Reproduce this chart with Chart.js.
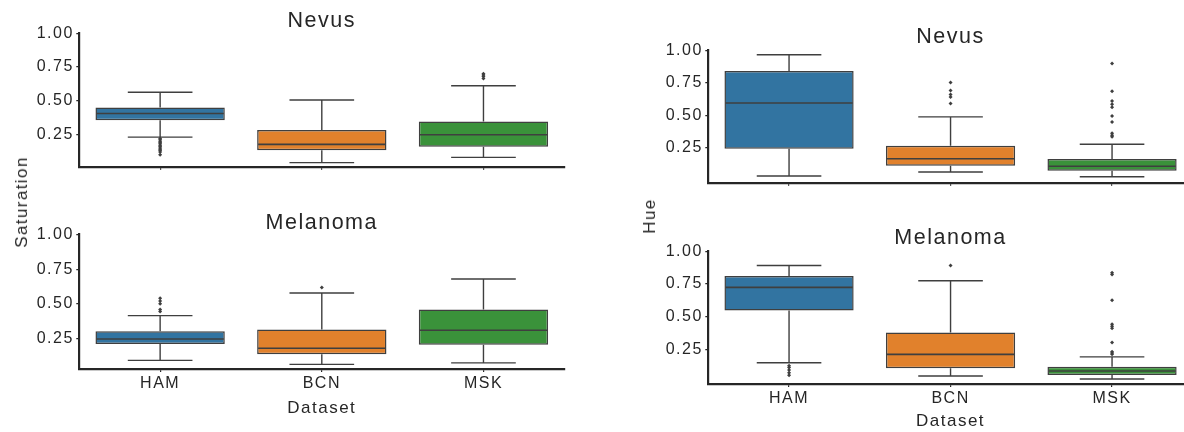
<!DOCTYPE html>
<html>
<head>
<meta charset="utf-8">
<script src="https://cdn.jsdelivr.net/npm/chart.js@4.4.1/dist/chart.umd.min.js"></script>
<style>
  html, body { margin: 0; padding: 0; background: #fff; overflow: hidden; }
  #fig { position: relative; width: 1184px; height: 432px; overflow: hidden; }
  .panel { position: absolute; }
  .ylab {
    position: absolute;
    font: 17px "Liberation Sans", Arial, sans-serif;
    letter-spacing: 1.4px;
    color: #262626;
    white-space: nowrap;
    transform: translate(-50%, -50%) rotate(-90deg);
  }
</style>
</head>
<body>
<div id="fig">
  <div class="panel" style="left:0;top:0;width:580px;height:180px"><canvas id="satNevus"></canvas></div>
  <div class="panel" style="left:0;top:190px;width:580px;height:229px"><canvas id="satMelanoma"></canvas></div>
  <div class="panel" style="left:600px;top:0;width:600px;height:196px"><canvas id="hueNevus"></canvas></div>
  <div class="panel" style="left:600px;top:200px;width:600px;height:232px"><canvas id="hueMelanoma"></canvas></div>
  <div class="ylab" style="left:22px;top:202px">Saturation</div>
  <div class="ylab" style="left:650px;top:216px">Hue</div>
</div>
<script>
const DATASETS = ['HAM', 'BCN', 'MSK'];
const COLORES = ['#3274a1', '#e1812c', '#3a923a'];
const Y_TICKS = [0.25, 0.5, 0.75, 1.0];
const Y_TICK_LABELS = ['0.25', '0.50', '0.75', '1.00'];

// Saturation - Nevus
const satNevLo = [0.23, 0.041, 0.08];
const satNevQ1 = [0.355, 0.132, 0.159];
const satNevMed = [0.405, 0.176, 0.247];
const satNevQ3 = [0.449, 0.282, 0.346];
const satNevHi = [0.562, 0.505, 0.611];
const satNevOut = [
  [0.22, 0.21, 0.20, 0.19, 0.18, 0.17, 0.16, 0.15, 0.14, 0.13, 0.12, 0.10],
  [],
  [0.70, 0.69, 0.68, 0.665]
];

// Saturation - Melanoma
const satMelLo = [0.092, 0.063, 0.074];
const satMelQ1 = [0.211, 0.137, 0.204];
const satMelMed = [0.246, 0.18, 0.31];
const satMelQ3 = [0.302, 0.315, 0.459];
const satMelHi = [0.415, 0.578, 0.679];
const satMelOut = [
  [0.54, 0.52, 0.50, 0.46, 0.445],
  [0.617],
  []
];

// Hue - Nevus
const hueNevLo = [0.029, 0.06, 0.023];
const hueNevQ1 = [0.239, 0.108, 0.07];
const hueNevMed = [0.594, 0.162, 0.104];
const hueNevQ3 = [0.841, 0.262, 0.16];
const hueNevHi = [0.967, 0.486, 0.275];
const hueNevOut = [
  [],
  [0.753, 0.69, 0.66, 0.64, 0.589],
  [0.90, 0.684, 0.61, 0.585, 0.56, 0.494, 0.447, 0.36, 0.345, 0.332]
];

// Hue - Melanoma
const hueMelLo = [0.146, 0.044, 0.021];
const hueMelQ1 = [0.545, 0.103, 0.051];
const hueMelMed = [0.723, 0.21, 0.082];
const hueMelQ3 = [0.81, 0.377, 0.115];
const hueMelHi = [0.891, 0.774, 0.191];
const hueMelOut = [
  [0.123, 0.11, 0.09, 0.07, 0.05],
  [0.891],
  [0.835, 0.822, 0.624, 0.44, 0.425, 0.41, 0.30, 0.23, 0.22, 0.21]
];

const TEXTO = '#262626';
const LINEA = '#3f3f3f';

Chart.defaults.font.family = '"Liberation Sans", Arial, sans-serif';
Chart.defaults.color = TEXTO;

// matplotlib text comes out a bit wider than the canvas default
const espaciado = {
  id: 'espaciado',
  beforeLayout(chart) { chart.ctx.letterSpacing = '1.5px'; },
  beforeDraw(chart) { chart.ctx.letterSpacing = '1.5px'; }
};

// whiskers, caps and medians on top of the floating bars
const cajas = {
  id: 'cajas',
  afterDatasetsDraw(chart, args, opts) {
    const { ctx, scales: { x, y } } = chart;
    const barras = chart.getDatasetMeta(0).data;
    ctx.save();
    ctx.strokeStyle = LINEA;
    ctx.lineWidth = 1.4;
    barras.forEach((b, i) => {
      const cx = x.getPixelForValue(i);
      const w = b.width;
      const yLo = y.getPixelForValue(opts.lo[i]);
      const yHi = y.getPixelForValue(opts.hi[i]);
      const yQ1 = y.getPixelForValue(opts.q1[i]);
      const yQ3 = y.getPixelForValue(opts.q3[i]);
      const yMed = y.getPixelForValue(opts.med[i]);
      ctx.beginPath();
      ctx.moveTo(cx, yQ3); ctx.lineTo(cx, yHi);
      ctx.moveTo(cx - w / 4, yHi); ctx.lineTo(cx + w / 4, yHi);
      ctx.moveTo(cx, yQ1); ctx.lineTo(cx, yLo);
      ctx.moveTo(cx - w / 4, yLo); ctx.lineTo(cx + w / 4, yLo);
      ctx.stroke();
      ctx.beginPath();
      ctx.lineWidth = 1.6;
      ctx.moveTo(cx - w / 2 + 1, yMed); ctx.lineTo(cx + w / 2 - 1, yMed);
      ctx.stroke();
      ctx.lineWidth = 1.4;
    });
    ctx.restore();
  }
};

function crearPanel(id, st, lay) {
  const atipicos = [];
  st.out.forEach((vals, i) => vals.forEach(v => atipicos.push({ x: DATASETS[i], y: v })));

  return new Chart(document.getElementById(id), {
    type: 'bar',
    data: {
      labels: DATASETS,
      datasets: [
        {
          data: st.q1.map((q, i) => [q, st.q3[i]]),
          backgroundColor: COLORES,
          borderColor: LINEA,
          borderWidth: 1.5,
          borderSkipped: false,
          barPercentage: 0.8,
          categoryPercentage: 1
        },
        {
          type: 'scatter',
          data: atipicos,
          pointStyle: 'rectRot',
          radius: 2,
          backgroundColor: LINEA,
          borderWidth: 0
        }
      ]
    },
    options: {
      responsive: true,
      maintainAspectRatio: false,
      animation: false,
      layout: { padding: { left: 0, right: lay.pr, top: 0, bottom: lay.pb } },
      plugins: {
        legend: { display: false },
        tooltip: { enabled: false },
        title: {
          display: true,
          text: lay.titulo,
          fullSize: false,
          color: TEXTO,
          font: { size: 21.5, weight: 'normal', lineHeight: 1 },
          padding: { top: lay.t1, bottom: lay.t2 }
        },
        cajas: { lo: st.lo, q1: st.q1, med: st.med, q3: st.q3, hi: st.hi }
      },
      scales: {
        x: {
          type: 'category',
          offset: true,
          grid: { offset: false, drawOnChartArea: false, tickLength: 3, color: TEXTO, lineWidth: 1.2 },
          border: { display: true, color: TEXTO, width: 2.2 },
          ticks: { display: lay.conX, color: TEXTO, font: { size: 16 }, padding: lay.xpad, maxRotation: 0 },
          title: {
            display: lay.conX,
            text: 'Dataset',
            color: TEXTO,
            font: { size: 17 },
            padding: { top: 0, bottom: lay.tpb }
          },
          afterFit: s => { s.height = lay.xh; }
        },
        y: {
          min: lay.ymin,
          max: 1.0,
          grid: { drawOnChartArea: false, tickLength: 3, color: TEXTO, lineWidth: 1.2 },
          border: { display: true, color: TEXTO, width: 2.2 },
          ticks: {
            color: TEXTO,
            font: { size: 16 },
            padding: 2.5,
            callback: (v, i) => Y_TICK_LABELS[i]
          },
          afterBuildTicks: s => { s.ticks = Y_TICKS.map(v => ({ value: v })); },
          afterFit: s => { s.width = lay.yw; }
        }
      }
    },
    plugins: [espaciado, cajas]
  });
}

window.onload = () => {
  crearPanel('satNevus',
    { lo: satNevLo, q1: satNevQ1, med: satNevMed, q3: satNevQ3, hi: satNevHi, out: satNevOut },
    { titulo: 'Nevus', ymin: 0.01, yw: 79.3, pr: 15.7, pb: 3.2, xh: 10, t1: 10.5, t2: 1.2, conX: false, xpad: 0, tpb: 0 });
  crearPanel('satMelanoma',
    { lo: satMelLo, q1: satMelQ1, med: satMelMed, q3: satMelQ3, hi: satMelHi, out: satMelOut },
    { titulo: 'Melanoma', ymin: 0.03, yw: 79.3, pr: 15.7, pb: 0, xh: 50, t1: 22.2, t2: 0.8, conX: true, xpad: 1.8, tpb: 0 });
  crearPanel('hueNevus',
    { lo: hueNevLo, q1: hueNevQ1, med: hueNevMed, q3: hueNevQ3, hi: hueNevHi, out: hueNevOut },
    { titulo: 'Nevus', ymin: -0.023, yw: 108.3, pr: 7.2, pb: 3.3, xh: 10, t1: 26.2, t2: 2.8, conX: false, xpad: 0, tpb: 0 });
  crearPanel('hueMelanoma',
    { lo: hueMelLo, q1: hueMelQ1, med: hueMelMed, q3: hueMelQ3, hi: hueMelHi, out: hueMelOut },
    { titulo: 'Melanoma', ymin: -0.017, yw: 108.3, pr: 7.2, pb: 0, xh: 48, t1: 27.8, t2: 1.9, conX: true, xpad: 2.4, tpb: 0 });
};
</script>
</body>
</html>
